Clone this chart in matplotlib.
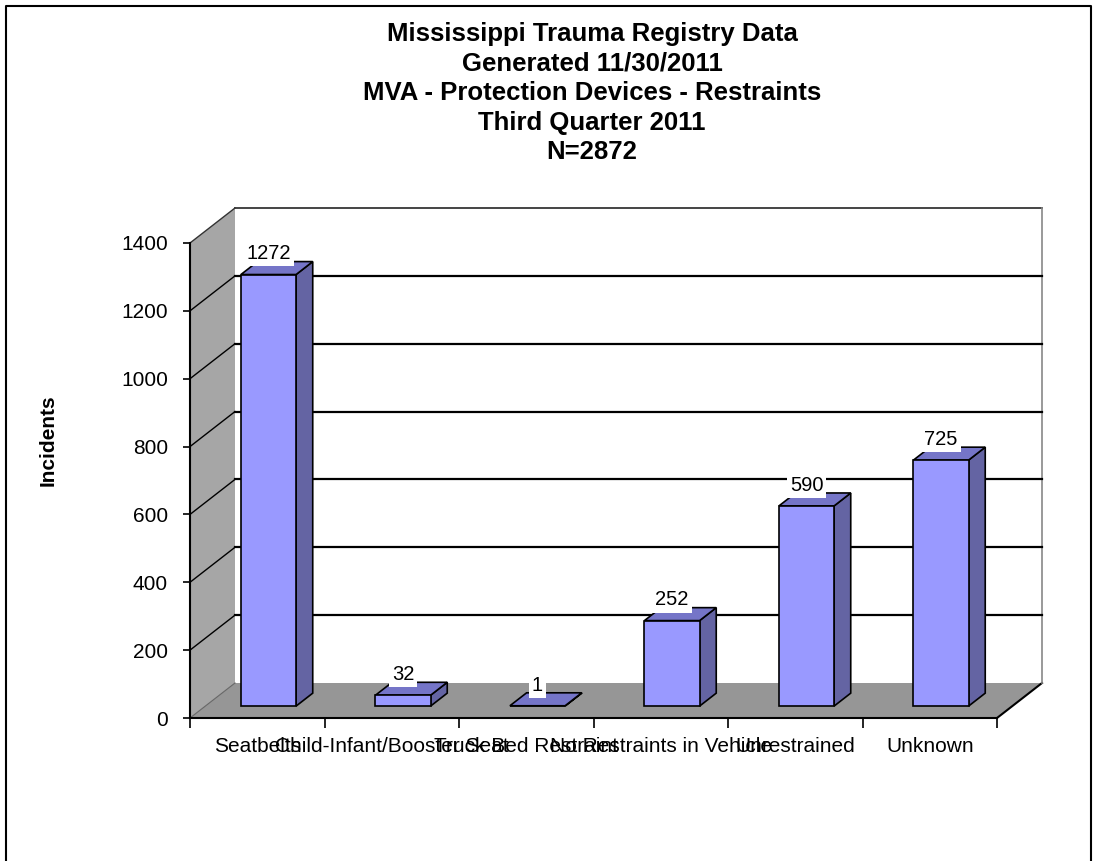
import matplotlib
matplotlib.use("Agg")
import matplotlib.pyplot as plt
from matplotlib.patches import Polygon
from matplotlib.lines import Line2D

categories = ["Seatbelts", "Child-Infant/Booster Seat", "Truck Bed Restraint",
              "No Restraints in Vehicle", "Unrestrained", "Unknown"]
values = [1272, 32, 1, 252, 590, 725]
yticks = [0, 200, 400, 600, 800, 1000, 1200, 1400]
title_lines = ["Mississippi Trauma Registry Data", "Generated 11/30/2011",
               "MVA - Protection Devices - Restraints", "Third Quarter 2011", "N=2872"]

plt.rcParams['font.family'] = ['Liberation Sans', 'DejaVu Sans']

W, H = 1094, 861
fig = plt.figure(figsize=(W / 100, H / 100), dpi=100)

# front plane of plot in pixels
x0, x1, y0, y1 = 190, 997, 718, 243
ax = fig.add_axes([x0 / W, 1 - y0 / H, (x1 - x0) / W, (y0 - y1) / H])
ax.set_xlim(-0.5, 5.5)
ax.set_ylim(0, 1400)

n = len(categories)
DX = 45 / ((x1 - x0) / n)            # depth shift in category units
DY = 35 / ((y0 - y1) / 1400)         # depth shift in value units


def P(x, y, d):
    return (x + d * DX, y + d * DY)


def poly(pts, fc, ec='none', lw=0, z=1):
    p = Polygon([P(*q) for q in pts], closed=True, facecolor=fc, edgecolor=ec,
                linewidth=lw, zorder=z, clip_on=False)
    ax.add_patch(p)


def line(a, b, color='black', lw=1.0, z=2):
    pa, pb = P(*a), P(*b)
    ax.add_line(Line2D([pa[0], pb[0]], [pa[1], pb[1]], color=color, lw=lw,
                       zorder=z, clip_on=False))


L, R = -0.5, n - 0.5
top = 1400
# walls
poly([(L, 0, 0), (L, 0, 1), (L, top, 1), (L, top, 0)], '#a6a6a6', z=0.5)
poly([(L, 0, 1), (R, 0, 1), (R, top, 1), (L, top, 1)], 'white', z=0.5)
# back wall border
line((L, top, 1), (R, top, 1), color='#444444', lw=1.4)
line((R, 0, 1), (R, top, 1), color='#888888', lw=1.2)
line((L, top, 0), (L, top, 1), color='#333333', lw=1.0)
# gridlines
for v in yticks[1:-1]:
    line((L, v, 1), (R, v, 1), color='black', lw=1.6)
    line((L, v, 0), (L, v, 1), color='black', lw=1.0)
# floor
poly([(L, 0, 0), (R, 0, 0), (R, 0, 1), (L, 0, 1)], '#969696', z=1)
line((R, 0, 0), (R, 0, 1), color='black', lw=1.5, z=1.5)
line((L, 0, 0), (L, 0, 1), color='#666666', lw=0.8, z=1.5)

# bars
w = 0.41
d1, d2 = 0.34, 0.71
front_c, side_c, top_c = '#9999ff', '#6464a3', '#7575c8'
for i, v in enumerate(values):
    a, b = i - w / 2 - 0.03, i + w / 2 - 0.03
    z = 3
    poly([(b, 0, d1), (b, 0, d2), (b, v, d2), (b, v, d1)], side_c, 'black', 1.2, z)
    poly([(a, v, d1), (b, v, d1), (b, v, d2), (a, v, d2)], top_c, 'black', 1.2, z)
    poly([(a, 0, d1), (b, 0, d1), (b, v, d1), (a, v, d1)], front_c, 'black', 1.2, z)
    lx, ly = P((a + b) / 2, v, d1)
    ax.annotate(str(v), (lx, ly), xytext=(0, 8), textcoords='offset points',
                ha='center', va='bottom', fontsize=14.5, zorder=5,
                bbox=dict(boxstyle='square,pad=0.15', fc='white', ec='none'),
                annotation_clip=False)

# axes styling
for s in ['top', 'right']:
    ax.spines[s].set_visible(False)
ax.spines['left'].set_linewidth(1.5)
ax.spines['bottom'].set_linewidth(1.5)
ax.spines['left'].set_zorder(6)
ax.spines['bottom'].set_zorder(6)
ax.set_facecolor('none')
ax.set_yticks(yticks)
ax.set_yticklabels([str(t) for t in yticks])
ax.tick_params(axis='y', direction='out', length=5, width=1.2, pad=11, labelsize=15)
ax.set_xticks(range(n))
ax.set_xticklabels(categories)
ax.set_xticks([k - 0.5 for k in range(n + 1)], minor=True)
ax.tick_params(axis='x', which='major', length=0, pad=14, labelsize=15)
ax.tick_params(axis='x', which='minor', direction='out', length=7, width=1.2)

fig.text(48 / W, 1 - 440 / H, "Incidents", rotation=90, ha='center', va='center',
         fontsize=15, fontweight='bold')
fig.text(592 / W, 1 - 93 / H, "\n".join(title_lines), ha='center', va='center',
         fontsize=18.5, fontweight='bold', linespacing=1.3)

# outer frame (left, top, right)
fx0, fx1, fy = 5.5 / W, 1090.5 / W, 1 - 5.5 / H
fig.add_artist(Line2D([fx0, fx0, fx1, fx1], [0, fy, fy, 0], color='black', lw=1.5,
                      transform=fig.transFigure))

fig.savefig("out.png", dpi=100)
